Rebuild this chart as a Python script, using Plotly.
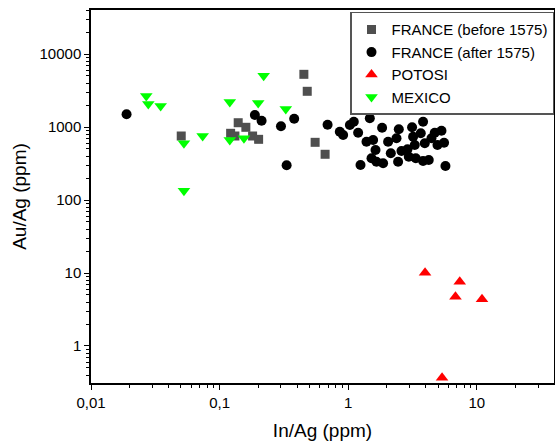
import plotly.graph_objects as go

# ---- data (In/Ag ppm, Au/Ag ppm) ----
france_before_x = [0.0503, 0.1395, 0.160, 0.1218, 0.1315, 0.1805, 0.201, 0.452, 0.480, 0.553, 0.661]
france_before_y = [753, 1145, 991, 820, 753, 753, 678, 5270, 3085, 617, 423]

france_after_x = [0.0189, 0.188, 0.212, 0.300, 0.380, 0.332, 0.691, 0.860, 0.913, 1.03, 1.105,
                  1.194, 1.472, 1.834, 2.473, 3.137, 3.819, 4.059, 1.387, 1.561, 1.630, 2.042,
                  2.373, 3.194, 3.665, 4.438, 3.937, 3.292, 2.889, 2.595, 2.143, 1.517, 1.659,
                  1.867, 1.246, 2.442, 2.957, 3.352, 3.819, 4.230, 4.709, 5.309, 5.562, 4.943, 5.702]
france_after_y = [1493, 1460, 1220, 1023, 1300, 299, 1075, 862, 777, 1065, 1182,
                  835, 1316, 978, 930, 990, 1182, 2180, 629, 663, 484, 629,
                  700, 737, 820, 700, 598, 567, 495, 469, 436, 373, 335,
                  318, 302, 335, 392, 373, 342, 353, 835, 890, 609, 567, 292]

potosi_x = [3.958, 7.364, 6.820, 10.97, 5.365]
potosi_y = [10.1, 7.60, 4.73, 4.36, 0.368]

mexico_x = [0.0269, 0.0279, 0.0348, 0.120, 0.1995, 0.220, 0.327, 0.0738, 0.0528, 0.120, 0.1546, 0.0528]
mexico_y = [2660, 2065, 1940, 2200, 2130, 5040, 1765, 753, 598, 663, 700, 134]

x_tickvals = [0.01, 0.1, 1, 10]
x_ticktext = ["0,01", "0,1", "1", "10"]
y_tickvals = [1, 10, 100, 1000, 10000]
y_ticktext = ["1", "10", "100", "1000", "10000"]

FONT = "Arial, 'Liberation Sans', sans-serif"

fig = go.Figure()
fig.add_trace(go.Scatter(x=france_before_x, y=france_before_y, mode="markers",
                         name="FRANCE (before 1575)",
                         marker=dict(symbol="square", size=9, color="#4f4f4f")))
fig.add_trace(go.Scatter(x=france_after_x, y=france_after_y, mode="markers",
                         name="FRANCE (after 1575)",
                         marker=dict(symbol="circle", size=10, color="#000000")))
fig.add_trace(go.Scatter(x=potosi_x, y=potosi_y, mode="markers", name="POTOSI",
                         marker=dict(symbol="triangle-up", size=11, color="#ff0000")))
fig.add_trace(go.Scatter(x=mexico_x, y=mexico_y, mode="markers", name="MEXICO",
                         marker=dict(symbol="triangle-down", size=11, color="#00ff00")))

axis_common = dict(
    type="log", showgrid=False, zeroline=False, automargin=False,
    showline=True, linecolor="black", linewidth=1.5, mirror=True,
    ticks="outside", ticklen=5, tickwidth=1.2, tickcolor="black",
    tickfont=dict(family=FONT, size=15, color="black"),
    minor=dict(ticks="outside", ticklen=3, tickwidth=1, tickcolor="black",
               dtick="D1", showgrid=False),
)

fig.update_xaxes(**axis_common, range=[-2, 1.6], tickvals=x_tickvals, ticktext=x_ticktext,
                 title=dict(text="In/Ag (ppm)", font=dict(family=FONT, size=19, color="black"),
                            standoff=14))
fig.update_yaxes(**axis_common, range=[-0.507, 4.603], tickvals=y_tickvals, ticktext=y_ticktext,
                 title=dict(text="Au/Ag (ppm)", font=dict(family=FONT, size=19, color="black"),
                            standoff=8))

fig.update_layout(
    width=555, height=441,
    margin=dict(l=91, r=1, t=10, b=58),
    paper_bgcolor="white", plot_bgcolor="white",
    font=dict(family=FONT, color="black"),
    legend=dict(x=1, xanchor="right", y=0.995, yanchor="top",
                bgcolor="white", bordercolor="#555555", borderwidth=1.5,
                font=dict(family=FONT, size=15, color="black"),
                itemwidth=30, tracegroupgap=0),
    showlegend=True,
)

fig.write_html("out.html", config={"displayModeBar": False},
               post_script="document.body.style.margin='0';document.body.style.padding='0';")
